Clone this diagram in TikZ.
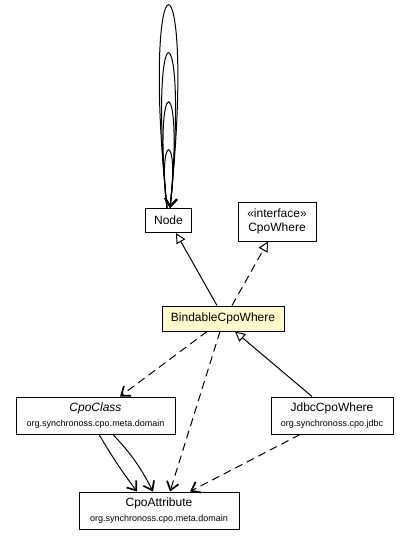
\documentclass[tikz,border=0pt]{standalone}
\usepackage{fontspec}
\setmainfont{Liberation Sans}
\usetikzlibrary{arrows.meta}

\definecolor{lemon}{RGB}{255,250,205}

\tikzset{
    cls/.style={draw, line width=1pt, fill=white, align=center, inner sep=2pt,
        font=\fontsize{12}{14}\selectfont},
    assoc/.style={line width=1pt, -{Straight Barb[length=8pt,width=12pt,line width=1.7pt]}},
    depend/.style={assoc, dash pattern=on 8pt off 5pt},
    extends/.style={line width=1pt, -{Triangle[open,length=10pt,width=10pt,fill=white]}},
    implements/.style={extends, dash pattern=on 8pt off 5pt},
}

\begin{document}
\begin{tikzpicture}[x=1pt, y=-1pt]
    \useasboundingbox (0,0) rectangle (409,540);

    \def\pkg#1{{\fontsize{9}{11}\selectfont #1}}

    \def\selfloop#1#2{%
        \draw[assoc] ([xshift=-1.5pt]nodecls.north) .. controls +(-#2,-#1) and +(#2,-#1) .. ([xshift=1.5pt]nodecls.north);
    }

    \node[cls, minimum width=46pt, minimum height=24pt] (nodecls) at (168.5,220.5) {Node};
    \node[cls, minimum width=78pt, minimum height=39pt] (where) at (277,221.5) {\guillemotleft interface\guillemotright\\CpoWhere};
    \node[cls, fill=lemon, minimum width=122pt, minimum height=25pt] (bindable) at (223,318.5) {BindableCpoWhere};
    \node[cls, minimum width=159pt, minimum height=37pt] (cpoclass) at (95.5,415.5) {\textit{CpoClass}\\[1pt]\pkg{org.synchronoss.cpo.meta.domain}};
    \node[cls, minimum width=122pt, minimum height=37pt] (jdbc) at (332,415.5) {JdbcCpoWhere\\[1pt]\pkg{org.synchronoss.cpo.jdbc}};
    \node[cls, minimum width=160pt, minimum height=37pt] (attr) at (159,510.5) {CpoAttribute\\[1pt]\pkg{org.synchronoss.cpo.meta.domain}};

    % loops on Node
    \selfloop{270.7}{28}
    \selfloop{206.7}{20}
    \selfloop{141.3}{15}
    \selfloop{77.3}{10}

    \draw[extends] ([xshift=-6pt]bindable.north) -- ([xshift=7.5pt]nodecls.south);
    \draw[implements] ([xshift=9pt]bindable.north) -- ([xshift=-9pt]where.south);
    \draw[extends] ([xshift=-20pt]jdbc.north) -- ([xshift=12pt]bindable.south);

    \draw[depend] ([xshift=-16pt]bindable.south) -- ([xshift=24.5pt]cpoclass.north);
    \draw[depend] ([xshift=-3pt]bindable.south) -- ([xshift=11pt]attr.north);
    \draw[depend] ([xshift=-32pt]jdbc.south) -- ([xshift=31pt]attr.north);

    \draw[assoc] ([xshift=3.5pt]cpoclass.south) to[bend right=3] ([xshift=-22pt]attr.north);
    \draw[assoc] ([xshift=17.5pt]cpoclass.south) to[bend left=8] ([xshift=-6pt]attr.north);
\end{tikzpicture}
\end{document}
